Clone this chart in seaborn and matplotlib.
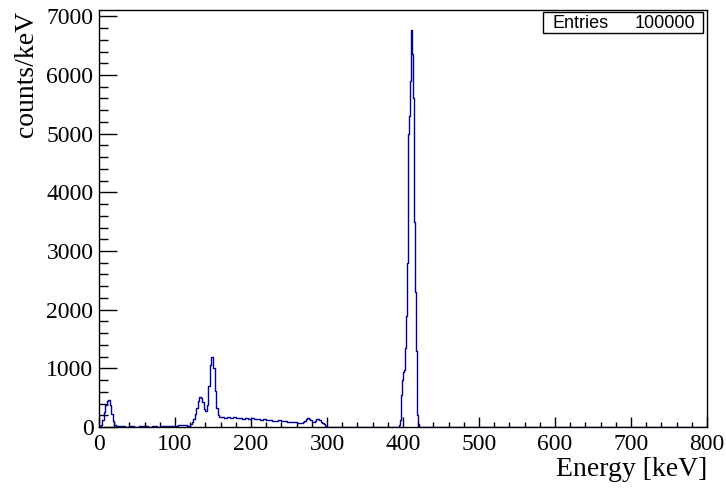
import numpy as np
import pandas as pd
import seaborn as sns
import matplotlib.pyplot as plt
from matplotlib.patches import Rectangle
from matplotlib.ticker import MultipleLocator

# bin left edges [keV] and contents [counts/keV]
energy = [0, 2, 4, 6, 8, 10, 12, 14, 16, 18, 20, 22, 24, 26, 30, 34, 40, 46, 52, 58,
          64, 70, 76, 82, 88, 94, 100, 104, 108, 112, 116, 120, 122, 124, 126, 128,
          130, 132, 134, 136, 138, 140, 142, 144, 146, 148, 150, 152, 154, 156, 158,
          160, 164, 168, 172, 176, 180, 184, 188, 192, 196, 200, 204, 208, 212, 216,
          220, 224, 228, 232, 236, 240, 244, 248, 252, 256, 260, 264, 268, 270, 272,
          274, 276, 278, 280, 282, 284, 286, 288, 290, 292, 294, 296, 298, 300, 302,
          394, 395, 396, 397, 398, 399, 400, 401, 402, 403, 404, 405, 406, 407, 408,
          409, 410, 411, 412, 413, 414, 415, 416, 417, 418, 419, 420, 421, 800]
counts = [10, 40, 120, 250, 380, 450, 460, 380, 230, 110, 40, 15, 20, 10, 15, 8, 12, 6, 10, 14,
          8, 12, 6, 10, 14, 10, 20, 35, 40, 30, 25, 60, 90, 140, 220, 330,
          440, 510, 500, 420, 300, 270, 380, 700, 1050, 1185, 1000, 620, 320, 210, 175,
          170, 160, 172, 158, 165, 150, 160, 145, 152, 140, 148, 135, 140, 125, 130,
          118, 122, 110, 105, 112, 98, 100, 90, 85, 80, 72, 70, 80, 110, 140,
          150, 145, 120, 90, 80, 100, 130, 145, 120, 90, 70, 50, 25, 8, 0,
          0, 30, 120, 300, 550, 800, 940, 970, 1020, 1350, 1900, 2800, 4000, 5000, 5300,
          5900, 6400, 6770, 6350, 5600, 4700, 3500, 2300, 1300, 600, 200, 60, 0, 0]
n_entries = 100000

df = pd.DataFrame({"energy": energy, "counts": counts})

sns.set_style("ticks")
plt.rcParams['font.family'] = ['Liberation Serif', 'DejaVu Serif']
plt.rcParams['text.color'] = 'black'
plt.rcParams['xtick.color'] = 'black'
plt.rcParams['ytick.color'] = 'black'

fig = plt.figure(figsize=(7.26, 4.97), dpi=100)
ax = fig.add_axes([0.1364, 0.1408, 0.8374, 0.8391])

sns.lineplot(ax=ax, data=df, x="energy", y="counts", drawstyle="steps-post",
             estimator=None, sort=False, color="#000099", linewidth=1.0)

ax.set_xlim(0, 800)
ax.set_ylim(0, 7108)
ax.xaxis.set_major_locator(MultipleLocator(100))
ax.xaxis.set_minor_locator(MultipleLocator(20))
ax.yaxis.set_major_locator(MultipleLocator(1000))
ax.yaxis.set_minor_locator(MultipleLocator(200))
ax.tick_params(axis="x", which="major", direction="in", length=7.2, width=1, labelsize=17, pad=5)
ax.tick_params(axis="x", which="minor", direction="in", length=3.6, width=1)
ax.tick_params(axis="y", which="major", direction="in", length=13, width=1, labelsize=17, pad=4)
ax.tick_params(axis="y", which="minor", direction="in", length=6.5, width=1)
for s in ax.spines.values():
    s.set_visible(True)
    s.set_linewidth(1.0)
    s.set_color("black")

ax.set_xlabel("")
ax.set_ylabel("")
fig.text(0.9738, 0.055, "Energy [keV]", ha="right", va="center", fontsize=20)
fig.text(0.037, 0.978, "counts/keV", ha="center", va="top", rotation=90, fontsize=20)

# stats box
fig.add_artist(Rectangle((543 / 726, 1 - 32.5 / 497), 160 / 726, 20.5 / 497,
                         transform=fig.transFigure, facecolor="white",
                         edgecolor="black", linewidth=1, zorder=5))
sans = ["Liberation Sans", "DejaVu Sans"]
fig.text(553 / 726, 1 - 23 / 497, "Entries", ha="left", va="center",
         fontsize=13, family=sans, zorder=6)
fig.text(695 / 726, 1 - 23 / 497, f"{n_entries}", ha="right", va="center",
         fontsize=13, family=sans, zorder=6)

fig.savefig("out.png", dpi=100)
